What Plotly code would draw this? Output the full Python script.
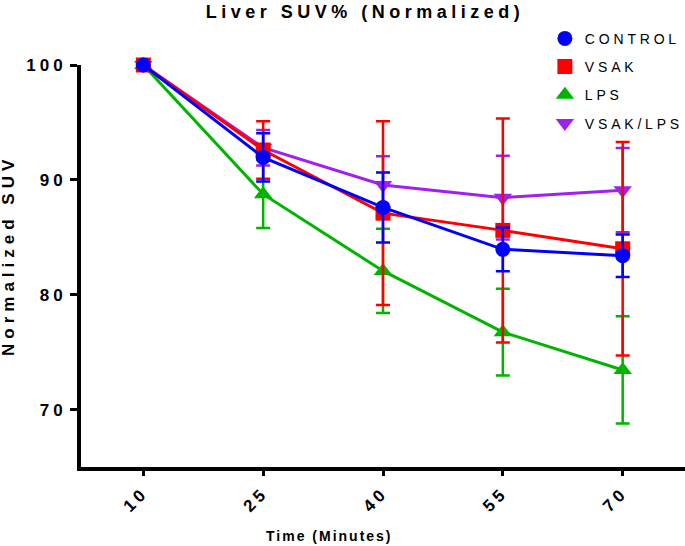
import plotly.graph_objects as go

times = ["10", "25", "40", "55", "70"]

control_mean = [100, 91.95, 87.6, 83.95, 83.4]
control_sem = [0, 2.1, 3.05, 1.9, 1.85]
vsak_mean = [100, 92.6, 87.1, 85.6, 84.0]
vsak_sem = [0, 2.5, 8.0, 9.75, 9.3]
lps_mean = [100, 88.75, 82.07, 76.74, 73.45]
lps_sem = [0, 2.95, 3.67, 3.78, 4.67]
vl_mean = [100, 92.8, 89.55, 88.45, 89.1]
vl_sem = [0, 1.55, 2.5, 3.65, 3.67]

series_names = ["CONTROL", "VSAK", "LPS", "VSAK/LPS"]
colors = {"CONTROL": "#0000FF", "VSAK": "#FF0000", "LPS": "#00B400", "VSAK/LPS": "#A020F0"}
symbols = {"CONTROL": "circle", "VSAK": "square", "LPS": "triangle-up", "VSAK/LPS": "triangle-down"}
msize = {"CONTROL": 15, "VSAK": 15, "LPS": 16, "VSAK/LPS": 16}
data = {
    "CONTROL": (control_mean, control_sem),
    "VSAK": (vsak_mean, vsak_sem),
    "LPS": (lps_mean, lps_sem),
    "VSAK/LPS": (vl_mean, vl_sem),
}

FONT = "Arial, Liberation Sans, sans-serif"
fig = go.Figure()

# draw order: purple, green, red, blue (blue on top)
for name in ["VSAK/LPS", "LPS", "VSAK", "CONTROL"]:
    m, e = data[name]
    fig.add_trace(go.Scatter(
        x=times, y=m, mode="lines+markers", name=name, showlegend=False,
        line=dict(color=colors[name], width=3),
        marker=dict(symbol=symbols[name], size=msize[name], color=colors[name]),
        error_y=dict(type="data", array=e, visible=True, color=colors[name],
                     thickness=2.5, width=7),
        cliponaxis=False,
    ))

# legend-only entries (markers only)
for name in series_names:
    fig.add_trace(go.Scatter(
        x=[None], y=[None], mode="markers", name=name, legendgroup=name,
        marker=dict(symbol=symbols[name], size=msize[name], color=colors[name]),
    ))

fig.update_layout(
    width=685, height=546,
    margin=dict(l=81, r=0, t=65, b=79, autoexpand=False),
    plot_bgcolor="white", paper_bgcolor="white",
    font=dict(family=FONT, color="black"),
    title=dict(text="Liver SUV% (Normalized)", x=0.533, xanchor="center",
               y=1 - 12 / 546, yanchor="middle", yref="container", xref="container",
               font=dict(family=FONT, size=18, weight="bold", color="black")),
    xaxis=dict(type="category", range=[-0.52, 4.52], showgrid=False, zeroline=False,
               showline=True, linecolor="black", linewidth=4,
               ticks="outside", ticklen=5, tickwidth=3, tickcolor="black",
               tickangle=-45,
               tickfont=dict(family=FONT, size=17, weight="bold", color="black")),
    yaxis=dict(range=[65, 100], showgrid=False, zeroline=False,
               showline=True, linecolor="black", linewidth=4,
               tickvals=[70, 80, 90, 100], ticktext=["70", "80", "90", "100"],
               ticks="outside", ticklen=7, tickwidth=3, tickcolor="black",
               tickfont=dict(family=FONT, size=17, weight="bold", color="black")),
    legend=dict(x=0.768, y=1.105, xanchor="left", yanchor="top",
                bgcolor="rgba(0,0,0,0)", tracegroupgap=7,
                font=dict(family=FONT, size=14, color="black")),
    annotations=[
        dict(text="Time (Minutes)", xref="paper", yref="paper",
             x=(329 - 81) / 604, y=(467 - 536) / 402, xanchor="center", yanchor="middle",
             showarrow=False, font=dict(family=FONT, size=14, weight="bold", color="black")),
        dict(text="Normalized SUV", xref="paper", yref="paper", textangle=-90,
             x=(9 - 81) / 604, y=(467 - 255) / 402, xanchor="center", yanchor="middle",
             showarrow=False, font=dict(family=FONT, size=17, weight="bold", color="black")),
    ],
)

css = (
    "html,body{margin:0;padding:0}"
    ".gtitle{letter-spacing:4.5px}"
    ".xtick text,.ytick text{letter-spacing:4px}"
    ".legendtext{letter-spacing:3.8px}"
    ".annotation[data-index='0'] text{letter-spacing:2px}"
    ".annotation[data-index='1'] text{letter-spacing:5px}"
)
post = (
    "var s=document.createElement('style');s.textContent=\"" + css + "\";"
    "document.head.appendChild(s);"
    "var gd=document.getElementById('{plot_id}');"
    "Plotly.relayout(gd,{'legend.font.size':14.01});"
)

fig.write_html("out.html", post_script=post, config={"displayModeBar": False})
